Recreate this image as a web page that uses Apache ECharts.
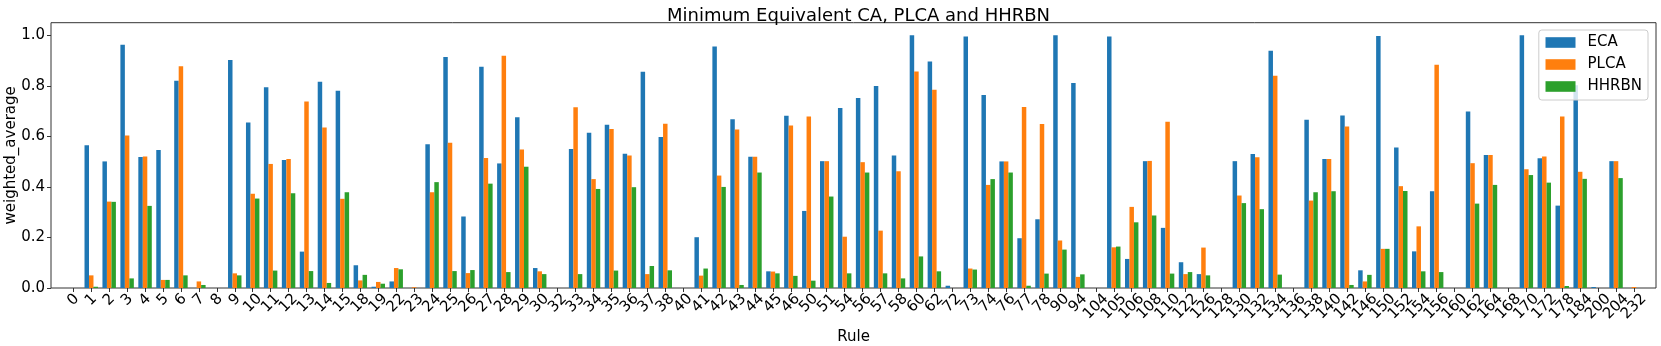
<!DOCTYPE html>
<html>
<head>
<meta charset="utf-8">
<script src="https://cdn.jsdelivr.net/npm/echarts@6/dist/echarts.min.js"></script>
<style>
html,body{margin:0;padding:0;background:#fff;}
#chart{width:1661px;height:346px;}
</style>
</head>
<body>
<div id="chart"></div>
<script>
const rules = ['0','1','2','3','4','5','6','7','8','9','10','11','12','13','14','15','18','19','22','23','24','25','26','27','28','29','30','32','33','34','35','36','37','38','40','41','42','43','44','45','46','50','51','54','56','57','58','60','62','72','73','74','76','77','78','90','94','104','105','106','108','110','122','126','128','130','132','134','136','138','140','142','146','150','152','154','156','160','162','164','168','170','172','178','184','200','204','232'];

const eca = [0,0.565,0.501,0.963,0.518,0.546,0.820,0,0,0.902,0.655,0.795,0.507,0.144,0.816,0.781,0.090,0.005,0.026,0,0.569,0.914,0.283,0.876,0.493,0.676,0.079,0,0.550,0.614,0.646,0.531,0.856,0.598,0,0.201,0.956,0.668,0.519,0.066,0.682,0.305,0.502,0.712,0.752,0.799,0.524,1.0,0.896,0.009,0.995,0.764,0.501,0.197,0.272,1.0,0.811,0,0.995,0.115,0.502,0.238,0.102,0.055,0,0.502,0.530,0.939,0,0.666,0.511,0.683,0.070,0.997,0.556,0.145,0.383,0,0.699,0.526,0,1.0,0.514,0.326,0.802,0.004,0.502,0];

const plca = [0,0.050,0.342,0.604,0.520,0.032,0.878,0.026,0,0.058,0.373,0.491,0.511,0.738,0.635,0.353,0.030,0.024,0.079,0.003,0.379,0.575,0.059,0.515,0.919,0.548,0.066,0,0.715,0.431,0.629,0.524,0.055,0.650,0,0.049,0.445,0.627,0.519,0.065,0.643,0.679,0.502,0.203,0.498,0.227,0.462,0.857,0.785,0,0.077,0.408,0.501,0.716,0.649,0.188,0.044,0,0.161,0.321,0.503,0.658,0.055,0.160,0,0.366,0.517,0.840,0,0.346,0.511,0.639,0.026,0.155,0.403,0.244,0.884,0,0.494,0.526,0,0.470,0.520,0.679,0.460,0,0.502,0.004];

const hhrbn = [0,0.005,0.341,0.038,0.325,0.032,0.050,0.012,0,0.050,0.354,0.069,0.375,0.067,0.020,0.379,0.052,0.017,0.074,0,0.419,0.067,0.071,0.413,0.063,0.480,0.055,0,0.055,0.392,0.069,0.399,0.087,0.070,0,0.077,0.400,0.012,0.457,0.058,0.048,0.029,0.362,0.058,0.457,0.058,0.038,0.125,0.066,0,0.073,0.431,0.457,0.009,0.057,0.152,0.054,0,0.164,0.260,0.287,0.057,0.063,0.050,0,0.336,0.312,0.053,0,0.379,0.383,0.012,0.052,0.155,0.384,0.066,0.063,0,0.334,0.408,0,0.447,0.417,0.008,0.432,0,0.435,0];

const yTicks = [0, 0.2, 0.4, 0.6, 0.8, 1.0];
const seriesNames = ['ECA', 'PLCA', 'HHRBN'];
const colors = ['#1f77b4', '#ff7f0e', '#2ca02c'];

const FONT = 'DejaVu Sans';
const chart = echarts.init(document.getElementById('chart'), null, {renderer: 'canvas'});

const gridTop = 22.7, gridBottom = 58;
const richLab = {};
[1,2,3].forEach(n => {
  const p = 4.77 * n;
  richLab['s' + n] = {fontFamily: FONT, fontSize: 15, color: '#000', padding: [p, p, 0, 0]};
});

const option = {
  animation: false,
  backgroundColor: '#fff',
  title: {
    text: 'Minimum Equivalent CA, PLCA and HHRBN',
    left: 853.5, top: 2, textAlign: 'center',
    textStyle: {fontFamily: FONT, fontSize: 18, fontWeight: 'normal', color: '#000'}
  },
  legend: {
    data: seriesNames,
    orient: 'vertical',
    right: 13, top: 30,
    padding: [5, 6, 6, 6.7],
    itemWidth: 30, itemHeight: 10.6, itemGap: 7,
    icon: 'rect',
    backgroundColor: 'rgba(255,255,255,0.8)',
    borderColor: '#cccccc', borderWidth: 1, borderRadius: 3,
    textStyle: {fontFamily: FONT, fontSize: 15, color: '#000', padding: [0, 0, 0, 7]}
  },
  grid: [
    {left: 51, right: 5, top: gridTop, bottom: gridBottom, show: true, borderColor: '#333', borderWidth: 1, backgroundColor: 'transparent', outerBoundsMode: 'none'},
    {left: 64.33, right: 18.04, top: gridTop, bottom: gridBottom, outerBoundsMode: 'none'}
  ],
  xAxis: [
    {gridIndex: 0, type: 'value', show: false, min: 0, max: 1},
    {
      gridIndex: 1, type: 'category', data: rules,
      boundaryGap: true,
      name: 'Rule', nameLocation: 'middle', nameGap: 36,
      nameTextStyle: {fontFamily: FONT, fontSize: 15, color: '#000'},
      axisLine: {show: false},
      axisTick: {show: true, alignWithLabel: true, length: 4, lineStyle: {color: '#333'}},
      axisLabel: {
        interval: 0, rotate: 45, align: 'center', verticalAlign: 'middle', margin: 8.6,
        fontFamily: FONT, fontSize: 15, color: '#000',
        formatter: v => '{s' + v.length + '|' + v + '}',
        rich: richLab
      },
      splitLine: {show: false}
    }
  ],
  yAxis: [
    {
      gridIndex: 0, type: 'value', min: 0, max: 1.05, interval: 0.2,
      name: 'weighted_average', nameLocation: 'middle', nameGap: 32,
      nameMoveOverlap: false,
      nameTextStyle: {fontFamily: FONT, fontSize: 15, color: '#000'},
      axisLine: {show: false},
      axisTick: {show: true, length: 4, lineStyle: {color: '#333'}, customValues: yTicks},
      axisLabel: {
        fontFamily: FONT, fontSize: 15, color: '#000', margin: 6,
        customValues: yTicks,
        formatter: v => v.toFixed(1)
      },
      splitLine: {show: false}
    },
    {gridIndex: 1, type: 'value', min: 0, max: 1.05, show: false, splitLine: {show: false}}
  ],
  series: [eca, plca, hhrbn].map((d, i) => ({
    name: seriesNames[i],
    type: 'bar',
    xAxisIndex: 1, yAxisIndex: 1,
    data: d,
    barGap: '0%',
    barCategoryGap: '25%',
    itemStyle: {color: colors[i]},
    emphasis: {disabled: true}
  }))
};
chart.setOption(option);
</script>
</body>
</html>
